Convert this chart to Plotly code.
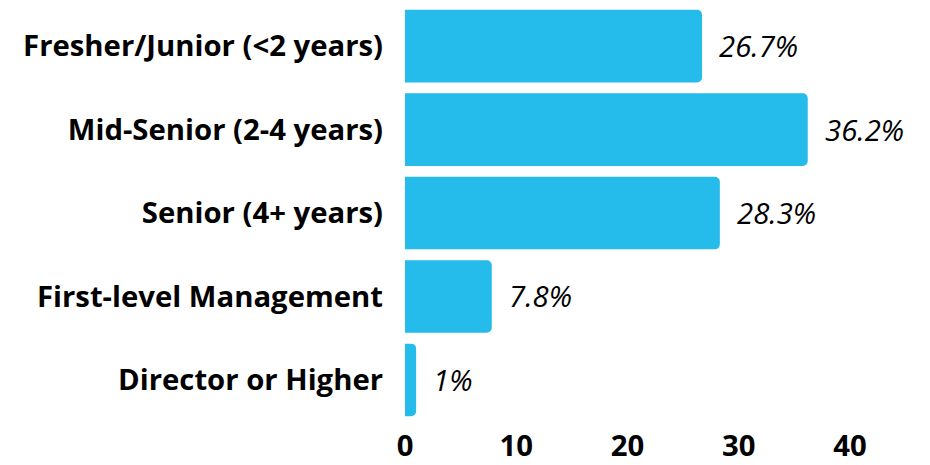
import plotly.graph_objects as go

categories = ["Fresher/Junior (<2 years)", "Mid-Senior (2-4 years)", "Senior (4+ years)",
              "First-level Management", "Director or Higher"]
values = [26.7, 36.2, 28.3, 7.8, 1]
value_labels = ["26.7%", "36.2%", "28.3%", "7.8%", "1%"]
tick_vals = [0, 10, 20, 30, 40]

fig = go.Figure()
fig.add_trace(go.Bar(
    y=categories, x=values, orientation="h",
    marker=dict(color="#25BBEB", cornerradius=5, line=dict(width=0)),
    hoverinfo="skip",
))
for c, v, t in zip(categories, values, value_labels):
    fig.add_annotation(x=v, y=c, text=t, showarrow=False, xanchor="left", xshift=15,
                       font=dict(family="Open Sans", size=29.3, color="black", style="italic"))

fig.update_layout(
    width=922, height=457,
    margin=dict(l=397, r=0, t=0, b=35, pad=0),
    paper_bgcolor="white", plot_bgcolor="white",
    bargap=0.13, showlegend=False,
    font=dict(family="Open Sans", color="black"),
)
fig.update_yaxes(range=[4.552, -0.457], showgrid=False, zeroline=False, showline=False,
                 ticks="", ticklabelstandoff=21,
                 tickfont=dict(family="Open Sans", size=29.3, color="black", weight="bold"))
fig.update_xaxes(range=[0, 47.19], tickvals=tick_vals, showgrid=False, zeroline=False,
                 showline=False, ticks="",
                 tickfont=dict(family="Open Sans", size=29.3, color="black", weight="bold"))
fig.write_html("out.html")
